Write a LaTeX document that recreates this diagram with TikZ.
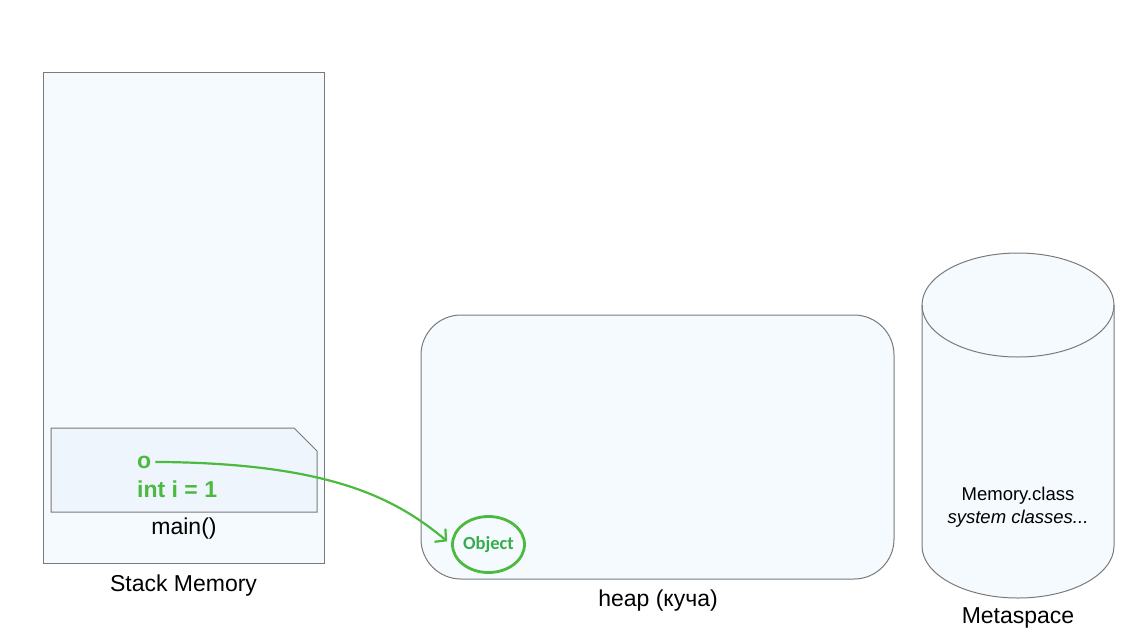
\documentclass[tikz,border=0pt]{standalone}
\usepackage{fontspec}
\setmainfont{Liberation Sans}
\newfontfamily\objfont{Carlito}
\usetikzlibrary{arrows.meta,shapes.geometric}
\definecolor{areafill}{HTML}{F5FAFE}
\definecolor{framefill}{HTML}{EEF5FC}
\definecolor{edgegray}{HTML}{7A7A7A}
\definecolor{refgreen}{HTML}{4CB93F}
\definecolor{objgreen}{HTML}{34AE4A}
\begin{document}
\begin{tikzpicture}[x=1pt,y=1pt,
  area/.style={draw=edgegray, line width=1pt, fill=areafill},
  caption/.style={font=\fontsize{23}{27}\selectfont, text=black, inner sep=0pt, anchor=base},
  vartext/.style={font=\fontsize{23}{27}\selectfont\bfseries, text=refgreen, inner sep=0pt, anchor=base west},
  reflink/.style={draw=refgreen, line width=2.2pt, -{Straight Barb[length=8pt,width=17pt,line width=2.2pt]}, shorten >=5pt}
]
\useasboundingbox (0,0) rectangle (1132,-638);

% stack area
\draw[area] (43,-72) rectangle (324,-563);
\node[caption] (stacklabel) at (183.5,-591) {Stack Memory};

% main() frame with a folded corner
\draw[draw=edgegray, line width=1pt, fill=framefill]
  (51,-428) -- (294,-428) -- (317,-451) -- (317,-512) -- (51,-512) -- cycle;
\node[vartext] (o) at (137,-468) {o};
\node[vartext] (ivar) at (137,-497) {int i = 1};
\node[caption] (mainlabel) at (184,-534) {main()};

% heap
\draw[area, rounded corners=40pt] (421,-315) rectangle (894,-579);
\node[caption] (heaplabel) at (658,-606) {heap (куча)};
\node[draw=refgreen, line width=2.8pt, ellipse, minimum width=72pt, minimum height=56pt,
      inner sep=0pt, font=\objfont\fontsize{18.5}{22}\selectfont\bfseries, text=objgreen]
  (obj) at (488.5,-544.5) {Object};

% metaspace cylinder
\fill[areafill] (922,-305) -- (922,-546) arc (180:360:96 and 52) -- (1114,-305) arc (0:180:96 and 52) -- cycle;
\draw[draw=edgegray, line width=1pt] (922,-305) -- (922,-546) arc (180:360:96 and 52) -- (1114,-305);
\draw[draw=edgegray, line width=1pt] (1018,-305) ellipse (96 and 52);
\node[font=\fontsize{18.5}{22}\selectfont, inner sep=0pt, anchor=base] (meta) at (1018,-500)
  {Memory.class};
\node[font=\fontsize{18.5}{22}\selectfont\itshape, inner sep=0pt, anchor=base] (sys) at (1018,-523)
  {system classes...};
\node[caption] (metalabel) at (1018,-623) {Metaspace};

% reference from o to the object on the heap
\draw[reflink] ([xshift=4pt]o.east) .. controls (330,-463) and (395,-498) .. (obj.west);
\end{tikzpicture}
\end{document}
